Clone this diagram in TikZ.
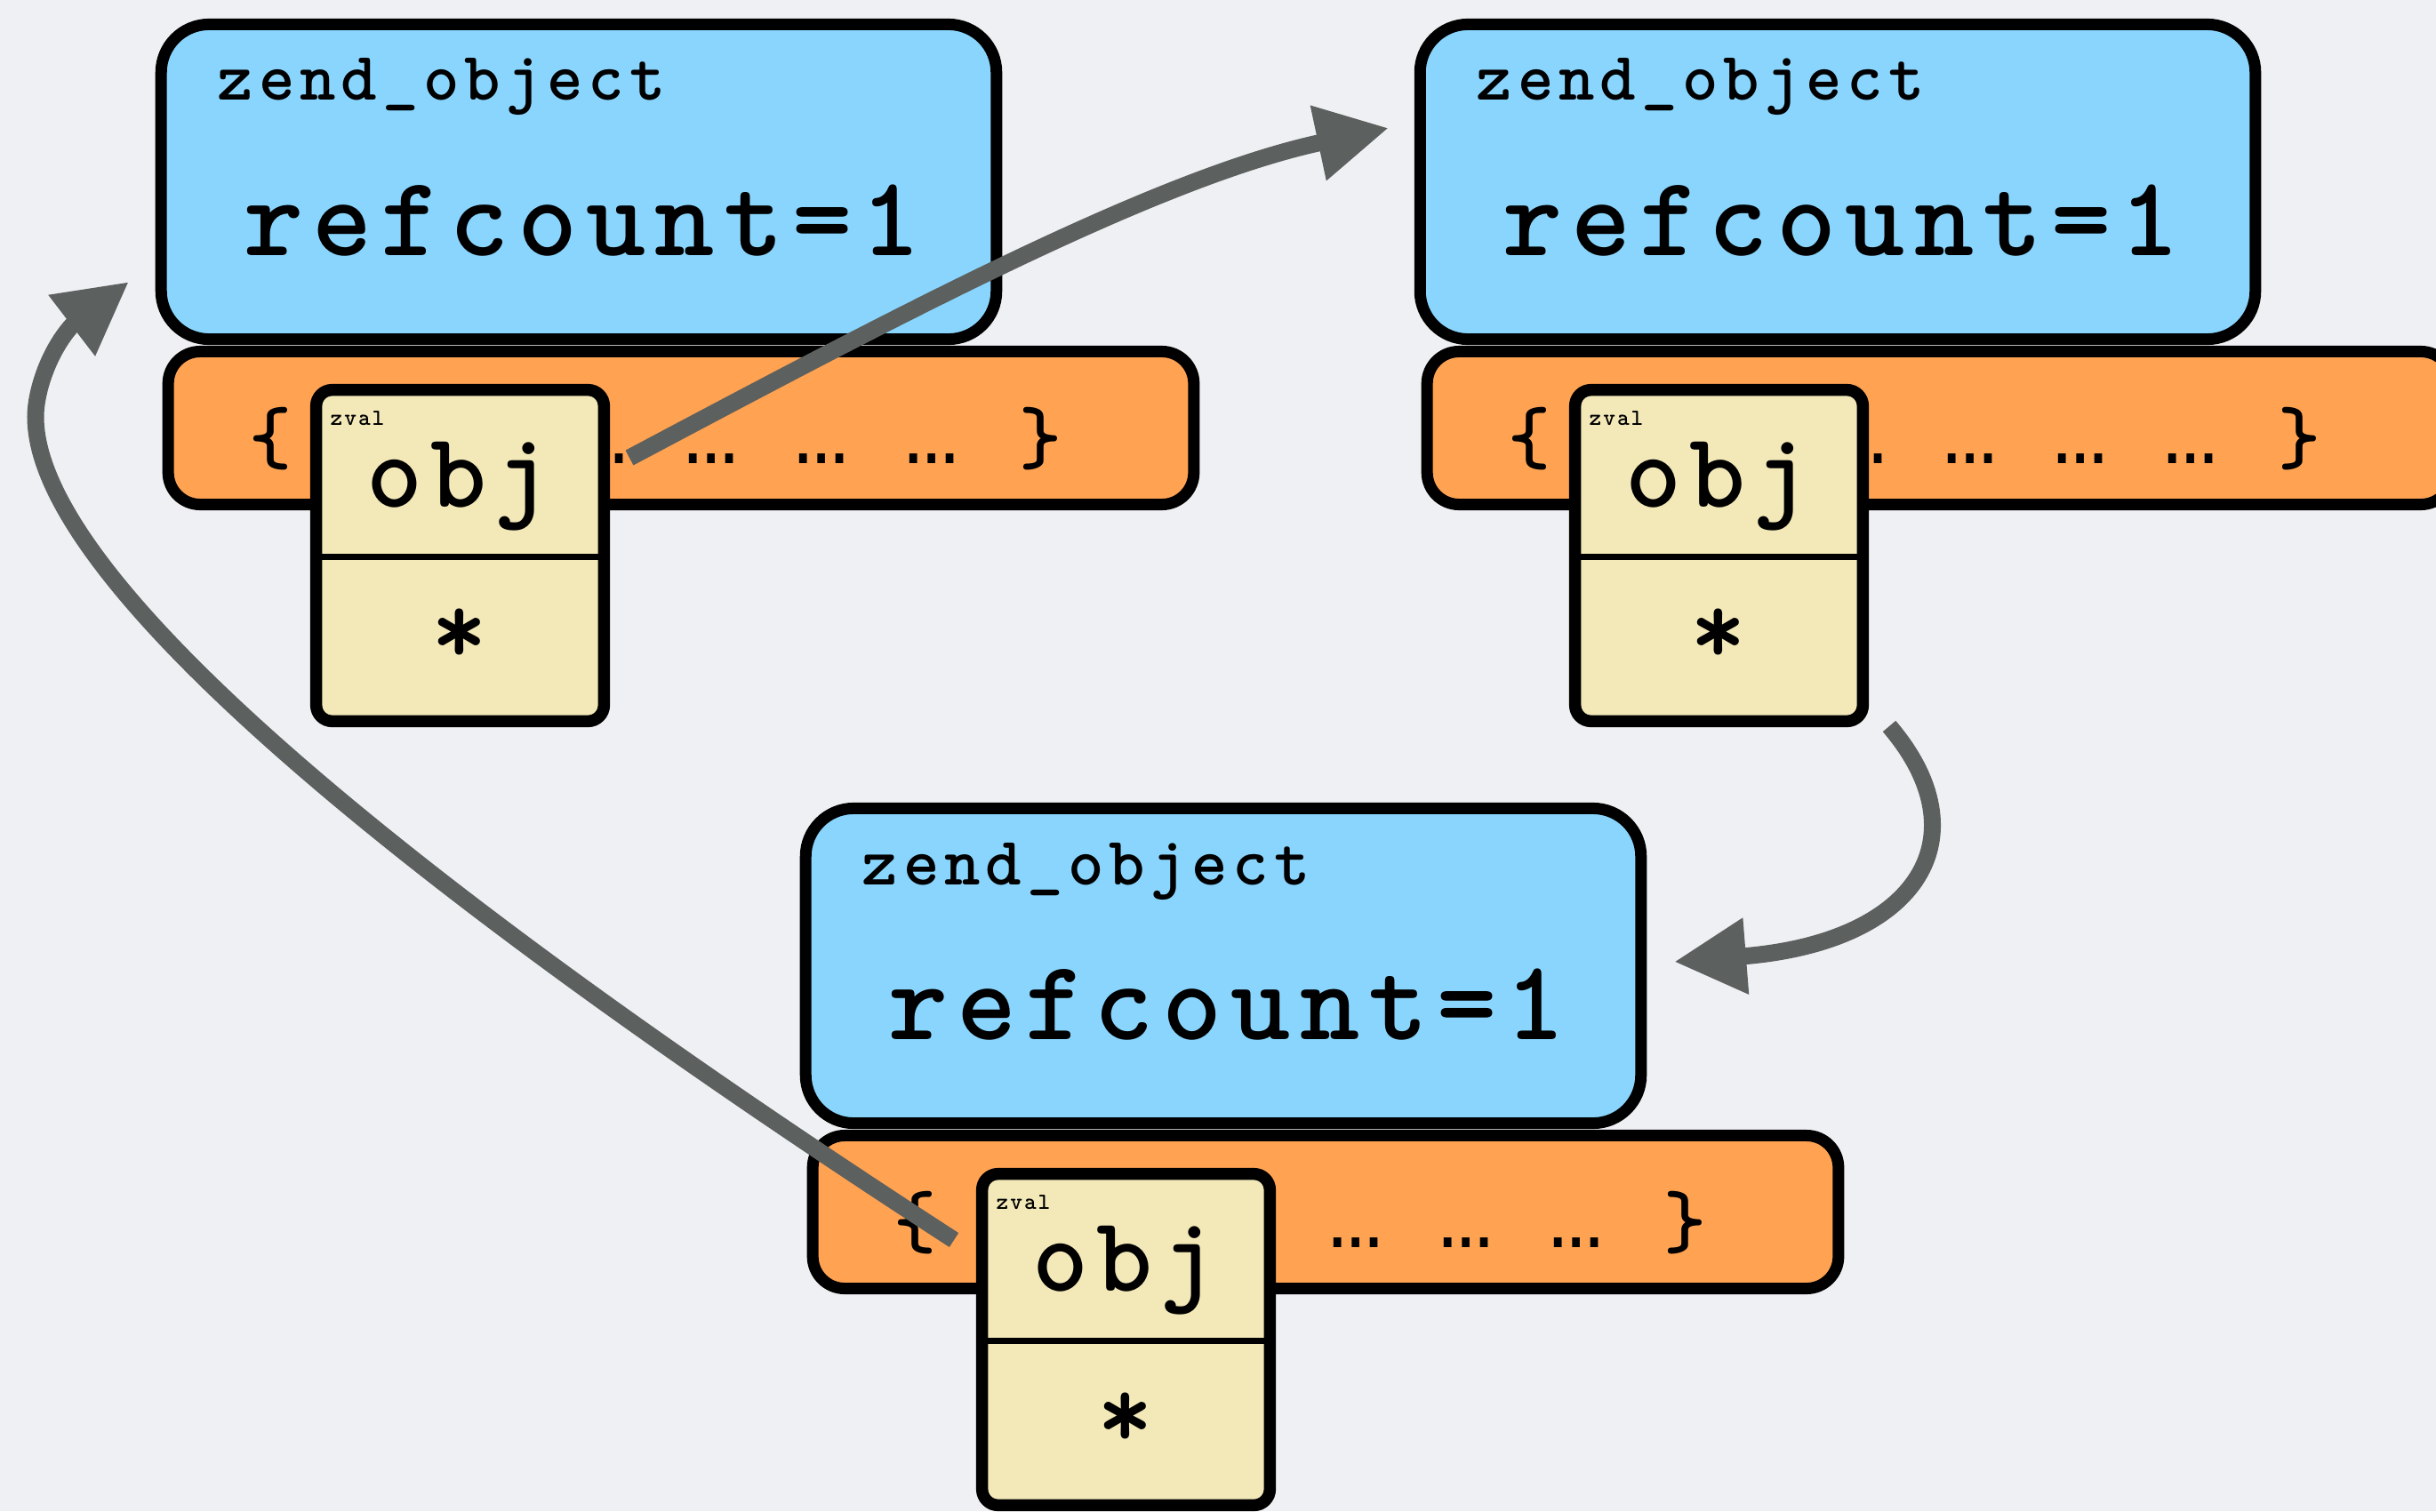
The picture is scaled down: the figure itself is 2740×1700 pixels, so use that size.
\documentclass[tikz,border=0pt]{standalone}
\usepackage{fontspec}
\newfontfamily\zmono{lmmonolt10-bold}[Extension=.otf, LetterSpace=7.7]
\newfontfamily\zmonoplain{lmmonolt10-bold}[Extension=.otf]
\newfontfamily\zdots{Liberation Mono}
\usetikzlibrary{arrows.meta}
\definecolor{bgc}{HTML}{EFF0F3}
\definecolor{zblue}{HTML}{89D5FD}
\definecolor{zorange}{HTML}{FFA252}
\definecolor{zcream}{HTML}{F2E8B8}
\definecolor{zarrow}{HTML}{5C605E}
\tikzset{
  objbox/.style={draw=black, line width=0.13cm, fill=zblue, rounded corners=0.54cm,
    minimum width=9.39cm, minimum height=3.54cm, inner sep=0pt},
  propbar/.style={draw=black, line width=0.13cm, fill=zorange, rounded corners=0.36cm,
    minimum width=11.53cm, minimum height=1.72cm, inner sep=0pt},
  zvalbox/.style={draw=black, line width=0.135cm, fill=zcream, rounded corners=0.18cm,
    minimum width=3.235cm, minimum height=3.725cm, inner sep=0pt},
  divider/.style={draw=black, line width=0.07cm},
  titletext/.style={inner sep=0pt, font=\fontsize{21.9}{26}\selectfont\zmono},
  bigtext/.style={inner sep=0pt, font=\fontsize{36.4}{40}\selectfont\zmono},
  objtext/.style={inner sep=0pt, font=\fontsize{34.1}{38}\selectfont\zmono},
  startext/.style={inner sep=0pt, font=\fontsize{34}{38}\selectfont\zmonoplain},
  bracetext/.style={inner sep=0pt, font=\fontsize{26}{30}\selectfont\zmonoplain},
  dotstext/.style={inner sep=0pt, font=\fontsize{29}{32}\selectfont\zdots},
  smalltext/.style={inner sep=0pt, font=\fontsize{7.4}{8}\selectfont\zmono},
  ptr/.style={draw=zarrow, line width=0.19cm, line join=round,
    -{Triangle[length=0.81cm, width=0.81cm]}},
}
\newcommand\zobjgroup[4]{%
  \begin{scope}[shift={(#2,#3)}]
    \node[objbox] (#1-obj) at (651,204.5) {};
    \node[titletext, anchor=base west] (#1-title) at (244,113) {zend\_object};
    \node[bigtext, anchor=base] (#1-rc) at (655,287) {refcount=1};
    \node[propbar] (#1-bar) at (766,481.5) {};
    \node[bracetext, anchor=base] (#1-lbrace) at (304,521) {\{};
    \foreach \k/\xx in {2/676, 3/800, 4/924, 5/1048}
      \node[dotstext, anchor=base] (#1-dots\k) at (\xx,521) {…};
    \node[bracetext, anchor=base] (#1-rbrace) at (1170,521) {\}};
    \begin{scope}[shift={(#4,0)}]
      \node[zvalbox] (#1-zval) at (517.5,625) {};
      \draw[divider] (356,626) -- (679,626);
      \node[smalltext, anchor=base west] (#1-zlabel) at (371,478) {zval};
      \node[objtext, anchor=base] (#1-objname) at (516,570) {obj};
      \node[startext] (#1-star) at (517,716) {*};
    \end{scope}
  \end{scope}
}
\begin{document}
\begin{tikzpicture}[x=0.01cm, y=-0.01cm]
  \fill[bgc] (0,0) rectangle (2740,1700);
  \useasboundingbox (0,0) rectangle (2740,1700);
  \clip (0,0) rectangle (2740,1700);
  \zobjgroup{A}{0}{0}{0}
  \zobjgroup{B}{1416}{0}{0}
  \zobjgroup{C}{725}{882}{24}
  % connector end points
  \coordinate (p1s) at (708,515);
  \coordinate (p1e) at (1562,144);
  \coordinate (p2s) at (2125,817);
  \coordinate (p2e) at (1883,1082);
  \coordinate (p3s) at (1073,1395);
  \coordinate (p3e) at (145,317);
  \draw[ptr] (p1s) .. controls (1000,360) and (1300,200) .. (p1e);
  \draw[ptr] (p2s) .. controls (2230,940) and (2160,1060) .. (p2e);
  \draw[ptr] (p3s) .. controls (695,1150) and (40,699) .. (40,469)
     .. controls (40,440) and (55,395) .. (81,366) -- (p3e);
\end{tikzpicture}
\end{document}
